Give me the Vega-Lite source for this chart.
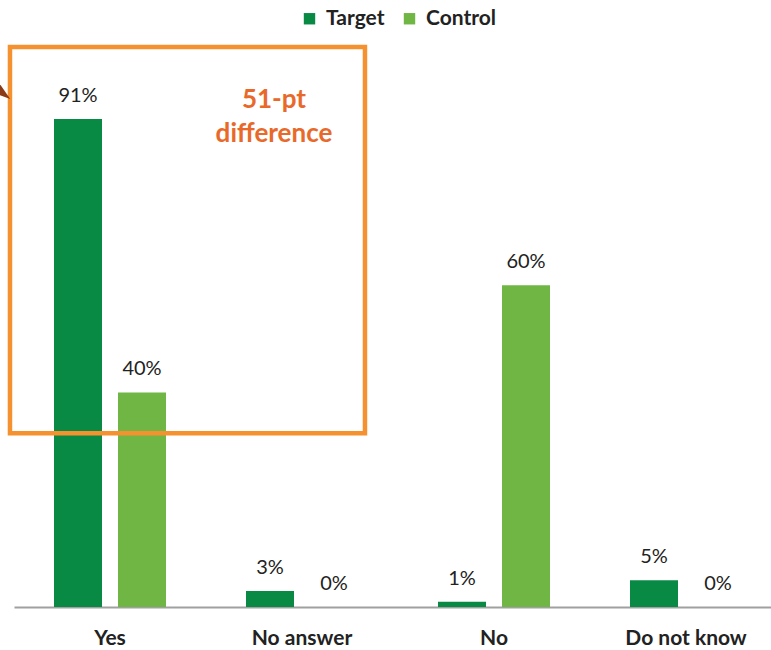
{
  "$schema": "https://vega.github.io/schema/vega-lite/v6.json",
  "width": 768,
  "height": 590,
  "padding": {"left": 14, "top": 17, "right": 0, "bottom": 43},
  "autosize": {"type": "none"},
  "background": "white",
  "config": {"view": {"stroke": null}, "font": "Lato"},
  "datasets": {
    "bars": [
      {"cat": "Yes", "group": "Target", "value": 91, "label": "91%"},
      {"cat": "Yes", "group": "Control", "value": 40, "label": "40%"},
      {"cat": "No answer", "group": "Target", "value": 3, "label": "3%"},
      {"cat": "No answer", "group": "Control", "value": 0, "label": "0%"},
      {"cat": "No", "group": "Target", "value": 1, "label": "1%"},
      {"cat": "No", "group": "Control", "value": 60, "label": "60%"},
      {"cat": "Do not know", "group": "Target", "value": 5, "label": "5%"},
      {"cat": "Do not know", "group": "Control", "value": 0, "label": "0%"}
    ],
    "box": [{"x1": -0.021, "x2": 1.828, "y1": 32.4, "y2": 104.4}],
    "note": [
      {"px": 1.354, "py": 94.5, "t": "51-pt"},
      {"px": 1.354, "py": 88.2, "t": "difference"}
    ],
    "arrow": [{"px": -0.045, "py": 97}]
  },
  "resolve": {"scale": {"x": "independent"}},
  "layer": [
    {
      "data": {"name": "bars"},
      "mark": {"type": "bar"},
      "encoding": {
        "x": {"field": "cat", "type": "nominal", "sort": ["Yes", "No answer", "No", "Do not know"],
          "scale": {"paddingInner": 0, "paddingOuter": 0},
          "axis": {"title": null, "labelAngle": 0, "labelFont": "Lato", "labelFontWeight": "bold", "labelFontSize": 21, "labelColor": "#222", "labelPadding": 20, "ticks": false, "domainColor": "#a0a0a0", "domainWidth": 2}},
        "xOffset": {"field": "group", "type": "nominal", "sort": ["Target", "Control"], "scale": {"paddingInner": 0.25, "paddingOuter": 0.625}},
        "y": {"field": "value", "type": "quantitative", "scale": {"domain": [0, 110]}, "axis": null},
        "color": {"field": "group", "type": "nominal", "sort": ["Target", "Control"],
          "scale": {"domain": ["Target", "Control"], "range": ["#088A45", "#70B644"]},
          "legend": {"title": null, "orient": "none", "legendX": 285, "legendY": -9, "direction": "horizontal", "symbolType": "square", "symbolSize": 130, "symbolStrokeWidth": 0, "labelFont": "Lato", "labelFontSize": 21, "labelFontWeight": "bold", "labelColor": "#222", "columnPadding": 14, "labelOffset": 6}}
      }
    },
    {
      "data": {"name": "bars"},
      "mark": {"type": "text", "baseline": "bottom", "dy": -13, "fontSize": 20, "font": "Lato", "color": "#222"},
      "encoding": {
        "x": {"field": "cat", "type": "nominal", "sort": ["Yes", "No answer", "No", "Do not know"], "scale": {"paddingInner": 0, "paddingOuter": 0}, "axis": null},
        "xOffset": {"field": "group", "type": "nominal", "sort": ["Target", "Control"], "scale": {"paddingInner": 0.25, "paddingOuter": 0.625}},
        "y": {"field": "value", "type": "quantitative"},
        "text": {"field": "label"}
      }
    },
    {
      "data": {"name": "box"},
      "mark": {"type": "rect", "fill": null, "fillOpacity": 0, "stroke": "#F5922F", "strokeWidth": 4.5, "clip": false},
      "encoding": {
        "x": {"field": "x1", "type": "quantitative", "scale": {"domain": [0, 4]}, "axis": null},
        "x2": {"field": "x2"},
        "y": {"field": "y1", "type": "quantitative"},
        "y2": {"field": "y2"}
      }
    },
    {
      "data": {"name": "note"},
      "mark": {"type": "text", "fontSize": 26, "fontWeight": "bold", "font": "Lato", "color": "#E8692A", "clip": false},
      "encoding": {
        "x": {"field": "px", "type": "quantitative", "scale": {"domain": [0, 4]}, "axis": null},
        "y": {"field": "py", "type": "quantitative"},
        "text": {"field": "t"}
      }
    },
    {
      "data": {"name": "arrow"},
      "mark": {"type": "point", "shape": "M -1 -1 L 0.4 1 L -1 0.5 Z", "filled": true, "color": "#8B3A17", "size": 600, "opacity": 1, "clip": false},
      "encoding": {
        "x": {"field": "px", "type": "quantitative", "scale": {"domain": [0, 4]}, "axis": null},
        "y": {"field": "py", "type": "quantitative"}
      }
    }
  ]
}
